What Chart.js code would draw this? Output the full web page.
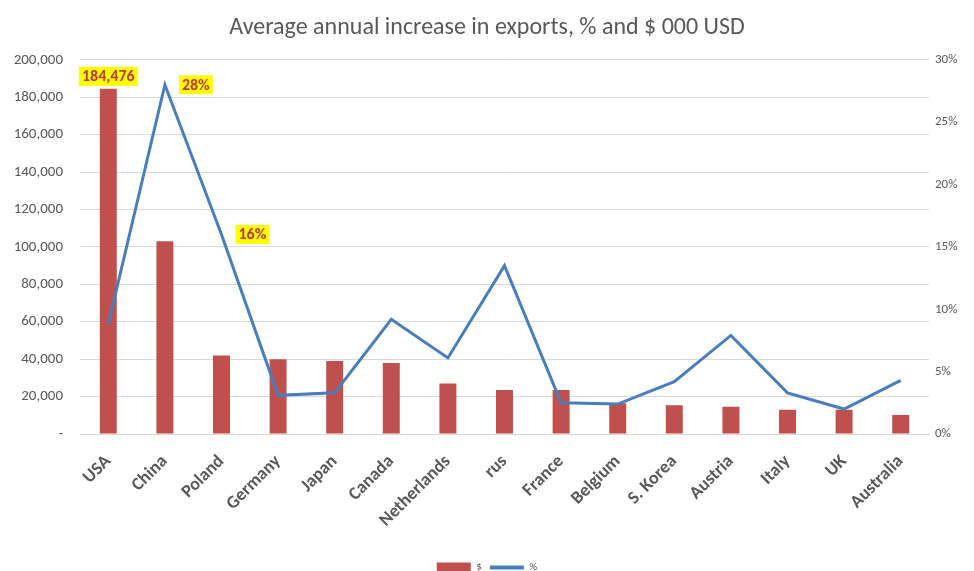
<!DOCTYPE html>
<html>
<head>
<meta charset="utf-8">
<style>
  html, body { margin: 0; padding: 0; background: #ffffff; }
  #wrap { width: 974px; height: 571px; position: relative; }
</style>
<script src="https://cdn.jsdelivr.net/npm/chart.js@4/dist/chart.umd.min.js"></script>
</head>
<body>
<div id="wrap"><canvas id="chart" width="974" height="571"></canvas></div>
<script>
// Countries along the category axis
const countries = ['USA', 'China', 'Poland', 'Germany', 'Japan', 'Canada', 'Netherlands', 'rus',
  'France', 'Belgium', 'S. Korea', 'Austria', 'Italy', 'UK', 'Australia'];

// Average annual increase in exports, $ 000 USD (bars, left axis)
const usdValues = [184476, 103000, 42000, 40000, 39000, 38000, 27000, 23500,
  23500, 16400, 15300, 14500, 13000, 13000, 10200];

// Average annual increase in exports, % (line, right axis)
const pctValues = [8.8, 28, 16, 3.1, 3.3, 9.2, 6.1, 13.5, 2.5, 2.4, 4.2, 7.9, 3.3, 2.0, 4.3];

// Series names
const seriesNames = ['$', '%'];

// Points that carry a highlighted value label: [dataset index, point index]
const callouts = [[0, 0], [1, 1], [1, 2]];

const TEXT = '#595959';
const GRID = '#d9d9d9';
const FONT = 'Carlito, Lato, "Open Sans", sans-serif';

const fmtUsd = v => v === 0 ? '-' : v.toLocaleString('en-US');
const fmtPct = v => Math.round(v) + '%';

// Draws yellow highlighted value labels next to selected points
const calloutPlugin = {
  id: 'callouts',
  afterDatasetsDraw(chart) {
    const ctx = chart.ctx;
    ctx.save();
    ctx.font = 'bold 16px ' + FONT;
    ctx.textBaseline = 'middle';
    callouts.forEach(([d, i]) => {
      const el = chart.getDatasetMeta(d).data[i];
      const v = chart.data.datasets[d].data[i];
      const text = d === 0 ? fmtUsd(v) : fmtPct(v);
      const w = ctx.measureText(text).width + 6;
      const h = 19;
      let cx, cy;
      if (d === 0) { cx = el.x; cy = el.y - 3 - h / 2; }
      else { cx = el.x + 14 + w / 2; cy = el.y; }
      ctx.fillStyle = '#ffff00';
      ctx.fillRect(cx - w / 2, cy - h / 2, w, h);
      ctx.fillStyle = '#c0392b';
      ctx.textAlign = 'center';
      ctx.fillText(text, cx, cy + 1);
    });
    ctx.restore();
  }
};

new Chart(document.getElementById('chart'), {
  data: {
    labels: countries,
    datasets: [
      {
        type: 'bar',
        label: seriesNames[0],
        data: usdValues,
        backgroundColor: '#c0504d',
        barPercentage: 0.3,
        categoryPercentage: 1,
        yAxisID: 'y',
        order: 2
      },
      {
        type: 'line',
        label: seriesNames[1],
        data: pctValues,
        borderColor: '#4a7ebb',
        backgroundColor: '#4a7ebb',
        borderWidth: 3,
        pointRadius: 0,
        tension: 0,
        yAxisID: 'y1',
        order: 1
      }
    ]
  },
  options: {
    responsive: false,
    animation: false,
    layout: { padding: { left: 0, right: 0, top: 0, bottom: -12 } },
    plugins: {
      title: {
        display: true,
        text: 'Average annual increase in exports, % and $ 000 USD',
        color: TEXT,
        font: { family: FONT, size: 24, weight: 'normal' },
        padding: { top: 14, bottom: 17 }
      },
      legend: {
        position: 'bottom',
        labels: {
          color: TEXT,
          font: { family: FONT, size: 11 },
          usePointStyle: true,
          pointStyleWidth: 34,
          boxHeight: 10,
          padding: 8,
          generateLabels(chart) {
            return chart.data.datasets.map((ds, i) => ({
              text: ds.label,
              fillStyle: ds.backgroundColor,
              strokeStyle: ds.type === 'line' ? ds.borderColor : ds.backgroundColor,
              lineWidth: ds.type === 'line' ? 4 : 0,
              pointStyle: ds.type === 'line' ? 'line' : 'rect',
              datasetIndex: i,
              fontColor: TEXT
            }));
          }
        }
      },
      tooltip: { enabled: false }
    },
    scales: {
      x: {
        grid: { display: false },
        border: { color: GRID },
        ticks: {
          color: TEXT,
          font: { family: FONT, size: 18, weight: 'bold' },
          minRotation: 45,
          maxRotation: 45,
          padding: 9
        },
        afterFit(scale) { scale.height = 120; }
      },
      y: {
        position: 'left',
        min: 0,
        max: 200000,
        ticks: {
          stepSize: 20000,
          color: TEXT,
          font: { family: FONT, size: 15 },
          padding: 17,
          callback: v => fmtUsd(v)
        },
        grid: { color: GRID, lineWidth: 1, drawTicks: false },
        border: { display: false },
        afterFit(scale) { scale.width = 80; }
      },
      y1: {
        position: 'right',
        min: 0,
        max: 30,
        ticks: {
          stepSize: 5,
          color: TEXT,
          font: { family: FONT, size: 13 },
          padding: 6,
          callback: v => v + '%'
        },
        grid: { display: false, drawTicks: false },
        border: { display: false },
        afterFit(scale) { scale.width = 45; }
      }
    }
  },
  plugins: [calloutPlugin]
});
</script>
</body>
</html>
